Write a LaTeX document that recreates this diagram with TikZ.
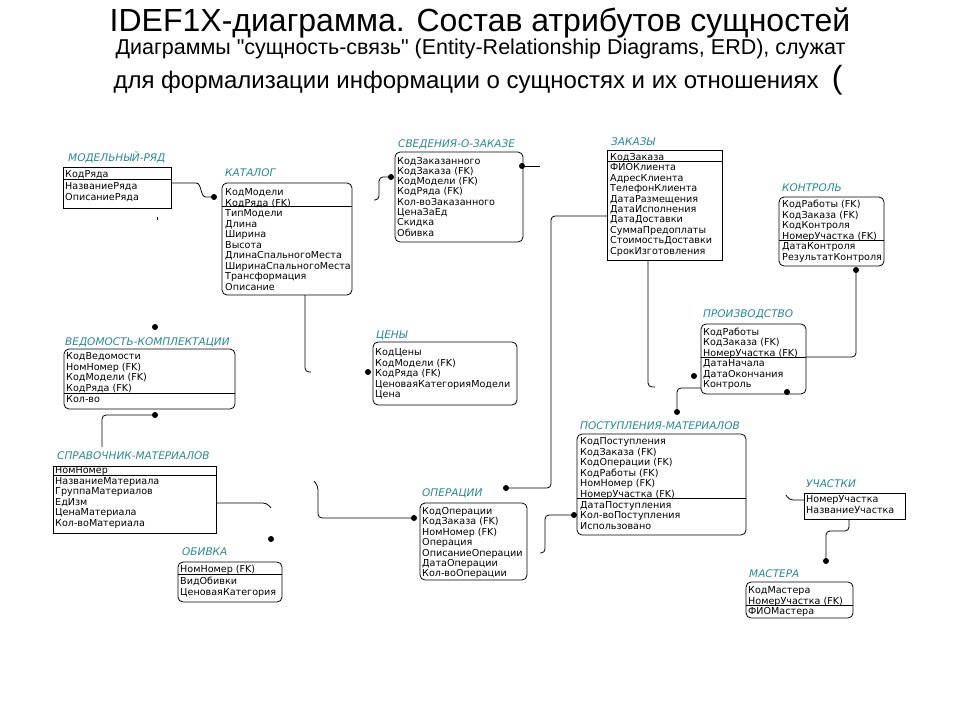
\documentclass[tikz,border=0pt]{standalone}
\usepackage{fontspec}
\setmainfont{Liberation Sans}
\newfontfamily\titlefont{Liberation Sans}
\newfontfamily\entfont{DejaVu Sans}
\usetikzlibrary{calc}
\definecolor{labcol}{RGB}{38,140,140}
\tikzset{
  boxsq/.style={draw, line width=0.8pt, anchor=north west, inner sep=0pt, outer sep=0pt},
  boxrd/.style={boxsq, rounded corners=5pt},
  row/.style={anchor=base west, inner sep=0pt, font=\entfont\fontsize{9.6}{11}\selectfont},
  lab/.style={anchor=base west, inner sep=0pt, text=labcol, font=\entfont\itshape\fontsize{10.5}{12}\selectfont},
  sepline/.style={line width=0.8pt},
  conn/.style={line width=0.8pt, rounded corners=4pt},
  dotc/.style={fill, circle, inner sep=0pt, minimum size=6pt},
  headtxt/.style={anchor=base, inner sep=0pt},
}
\begin{document}
\begin{tikzpicture}[x=1pt,y=-1pt]
\useasboundingbox[fill=white] (0,0) rectangle (960,720);

% titles
\node[headtxt, font=\titlefont\fontsize{32}{36}\selectfont] (title) at (480,31.5) {IDEF1X-диаграмма. Состав атрибутов сущностей};
\node[headtxt, font=\titlefont\fontsize{21.5}{24}\selectfont] (sub1) at (480.5,54.5) {Диаграммы "сущность-связь" (Entity-Relationship Diagrams, ERD), служат};
\node[headtxt, font=\titlefont\fontsize{24}{28}\selectfont] (sub2) at (478,88) {для формализации информации о сущностях и их отношениях\ \ {\fontsize{32}{32}\selectfont(}};

% МОДЕЛЬНЫЙ-РЯД
\node[lab] (modryad-lab) at (68,161) {МОДЕЛЬНЫЙ-РЯД};
\node[boxsq, minimum width=108pt, minimum height=41pt] (modryad) at (63,167) {};
\draw[sepline] (modryad.west |- 0,179.5) -- (modryad.east |- 0,179.5);
\foreach \t [count=\i] in {КодРяда,НазваниеРяда,ОписаниеРяда}
  \node[row] (modryad-\i) at (65,{177.5+11.7*(\i-1)}) {\t};

% КАТАЛОГ
\node[lab] (katalog-lab) at (225,176) {КАТАЛОГ};
\node[boxrd, minimum width=130pt, minimum height=112pt] (katalog) at (222,183) {};
\draw[sepline] (katalog.west |- 0,206) -- (katalog.east |- 0,206);
\foreach \t [count=\i] in {КодМодели,КодРяда (FK),ТипМодели,Длина,Ширина,Высота,ДлинаСпальногоМеста,ШиринаСпальногоМеста,Трансформация,Описание}
  \node[row] (katalog-\i) at (225,{195.5+10.5*(\i-1)}) {\t};

% СВЕДЕНИЯ-О-ЗАКАЗЕ
\node[lab] (sved-lab) at (398,147) {СВЕДЕНИЯ-О-ЗАКАЗЕ};
\node[boxrd, minimum width=128pt, minimum height=90pt] (sved) at (395,152) {};
\foreach \t [count=\i] in {КодЗаказанного,КодЗаказа (FK),КодМодели (FK),КодРяда (FK),Кол-воЗаказанного,ЦенаЗаЕд,Скидка,Обивка}
  \node[row] (sved-\i) at (397,{164+10.3*(\i-1)}) {\t};

% ЗАКАЗЫ
\node[lab] (zakazy-lab) at (611,145) {ЗАКАЗЫ};
\node[boxsq, minimum width=115pt, minimum height=110pt] (zakazy) at (607,150) {};
\draw[sepline] (zakazy.west |- 0,161.5) -- (zakazy.east |- 0,161.5);
\foreach \t [count=\i] in {КодЗаказа,ФИОКлиента,АдресКлиента,ТелефонКлиента,ДатаРазмещения,ДатаИсполнения,ДатаДоставки,СуммаПредоплаты,СтоимостьДоставки,СрокИзготовления}
  \node[row] (zakazy-\i) at (610,{160.5+10.4*(\i-1)}) {\t};

% КОНТРОЛЬ
\node[lab] (kontrol-lab) at (782,191) {КОНТРОЛЬ};
\node[boxrd, minimum width=105pt, minimum height=69pt] (kontrol) at (779,197) {};
\draw[sepline] (kontrol.west |- 0,240) -- (kontrol.east |- 0,240);
\foreach \t [count=\i] in {КодРаботы (FK),КодЗаказа (FK),КодКонтроля,НомерУчастка (FK),ДатаКонтроля,РезультатКонтроля}
  \node[row] (kontrol-\i) at (782,{207.5+10.6*(\i-1)}) {\t};

% ПРОИЗВОДСТВО
\node[lab] (proizv-lab) at (703,317) {ПРОИЗВОДСТВО};
\node[boxrd, minimum width=105pt, minimum height=70pt] (proizv) at (701,324) {};
\draw[sepline] (proizv.west |- 0,357) -- (proizv.east |- 0,357);
\foreach \t [count=\i] in {КодРаботы,КодЗаказа (FK),НомерУчастка (FK),ДатаНачала,ДатаОкончания,Контроль}
  \node[row] (proizv-\i) at (703,{335.5+10.4*(\i-1)}) {\t};

% ПОСТУПЛЕНИЯ-МАТЕРИАЛОВ
\node[lab] (postupl-lab) at (580,429) {ПОСТУПЛЕНИЯ-МАТЕРИАЛОВ};
\node[boxrd, minimum width=169pt, minimum height=101pt] (postupl) at (577,434) {};
\draw[sepline] (postupl.west |- 0,498.5) -- (postupl.east |- 0,498.5);
\foreach \t [count=\i] in {КодПоступления,КодЗаказа (FK),КодОперации (FK),КодРаботы (FK),НомНомер (FK),НомерУчастка (FK),ДатаПоступления,Кол-воПоступления,Использовано}
  \node[row] (postupl-\i) at (580,{444.5+10.6*(\i-1)}) {\t};

% УЧАСТКИ
\node[lab] (uch-lab) at (806,487) {УЧАСТКИ};
\node[boxsq, minimum width=101pt, minimum height=26pt] (uch) at (804,493) {};
\foreach \t [count=\i] in {НомерУчастка,НазваниеУчастка}
  \node[row] (uch-\i) at (806,{502.5+10.5*(\i-1)}) {\t};

% МАСТЕРА
\node[lab] (mast-lab) at (749,577) {МАСТЕРА};
\node[boxrd, minimum width=107pt, minimum height=36pt] (mast) at (746,582) {};
\draw[sepline] (mast.west |- 0,605) -- (mast.east |- 0,605);
\foreach \t [count=\i] in {КодМастера,НомерУчастка (FK),ФИОМастера}
  \node[row] (mast-\i) at (748,{593.5+10.6*(\i-1)}) {\t};

% ВЕДОМОСТЬ-КОМПЛЕКТАЦИИ
\node[lab] (ved-lab) at (65,345) {ВЕДОМОСТЬ-КОМПЛЕКТАЦИИ};
\node[boxrd, minimum width=171pt, minimum height=60pt] (ved) at (64,349) {};
\draw[sepline] (ved.west |- 0,393) -- (ved.east |- 0,393);
\foreach \t [count=\i] in {КодВедомости,НомНомер (FK),КодМодели (FK),КодРяда (FK),Кол-во}
  \node[row] (ved-\i) at (66,{359.5+10.7*(\i-1)}) {\t};

% СПРАВОЧНИК-МАТЕРИАЛОВ
\node[lab] (sprav-lab) at (57,459) {СПРАВОЧНИК-МАТЕРИАЛОВ};
\node[boxsq, minimum width=163pt, minimum height=67pt] (sprav) at (53,466) {};
\draw[sepline] (sprav.west |- 0,475.5) -- (sprav.east |- 0,475.5);
\foreach \t [count=\i] in {НомНомер,НазваниеМатериала,ГруппаМатериалов,ЕдИзм,ЦенаМатериала,Кол-воМатериала}
  \node[row] (sprav-\i) at (55,{473.5+10.6*(\i-1)}) {\t};

% ОБИВКА
\node[lab] (obiv-lab) at (182,555) {ОБИВКА};
\node[boxrd, minimum width=104pt, minimum height=40pt] (obiv) at (178,562) {};
\draw[sepline] (obiv.west |- 0,574) -- (obiv.east |- 0,574);
\foreach \t [count=\i] in {НомНомер (FK),ВидОбивки,ЦеноваяКатегория}
  \node[row] (obiv-\i) at (180,{572.5+11.5*(\i-1)}) {\t};

% ОПЕРАЦИИ
\node[lab] (oper-lab) at (422,496) {ОПЕРАЦИИ};
\node[boxrd, minimum width=107pt, minimum height=77pt] (oper) at (420,503) {};
\foreach \t [count=\i] in {КодОперации,КодЗаказа (FK),НомНомер (FK),Операция,ОписаниеОперации,ДатаОперации,Кол-воОперации}
  \node[row] (oper-\i) at (422,{514.5+10.4*(\i-1)}) {\t};

% ЦЕНЫ
\node[lab] (ceny-lab) at (376,338) {ЦЕНЫ};
\node[boxrd, minimum width=144pt, minimum height=63pt] (ceny) at (373,342) {};
\foreach \t [count=\i] in {КодЦены,КодМодели (FK),КодРяда (FK),ЦеноваяКатегорияМодели,Цена}
  \node[row] (ceny-\i) at (375,{355.5+10.6*(\i-1)}) {\t};

% ---- dots ----
\node[dotc] (d-katalog) at (214,197) {};
\node[dotc] (d-ceny) at (368,372) {};
\node[dotc] (d-sved-l) at (391,177) {};
\node[dotc] (d-sved-r) at (522,166) {};
\node[dotc] (d-oper-t) at (506,488) {};
\node[dotc] (d-oper-l) at (414,518) {};
\node[dotc] (d-proizv-l) at (694,376) {};
\node[dotc] (d-proizv-b) at (787,392) {};
\node[dotc] (d-kontrol) at (856,270) {};
\node[dotc] (d-postupl-t) at (677,412) {};
\node[dotc] (d-postupl-l) at (574,515) {};
\node[dotc] (d-ved-t) at (155,327) {};
\node[dotc] (d-ved-b) at (155,415) {};
\node[dotc] (d-obiv) at (271,539) {};
\node[dotc] (d-mast) at (826,561) {};

% ---- free ends ----
\coordinate (e-katalog) at (311,372);
\coordinate (e-sved-l) at (374,200);
\coordinate (e-sved-r) at (540,166);
\coordinate (e-zakazy) at (655,387);
\coordinate (e-postupl) at (540,553);
\coordinate (e-ved) at (102,447);
\coordinate (e-sprav) at (271,508);
\coordinate (e-oper) at (314,481);
\coordinate (e-uch) at (786,495);

% ---- connectors ----
\draw[line width=0.8pt] (modryad.east |- 0,183) -- (196,183) .. controls (202,183) and (200,197) .. (206,197) -- (d-katalog.center);
\draw[conn] (katalog.south -| 305,0) -- (305,372) -- (e-katalog);
\draw[conn] (d-sved-l.center) -- (379,177) -- (379,200) -- (e-sved-l);
\draw[line width=0.8pt] (d-sved-r.center) -- (e-sved-r);
\draw[conn] (zakazy.west |- 0,216) -- (551,216) -- (551,488) -- (d-oper-t.center);
\draw[conn] (zakazy.south -| 648,0) -- (648,387) -- (e-zakazy);
\draw[conn] (proizv.east |- 0,357) -- (856,357) -- (d-kontrol.center);
\draw[conn] (proizv.west |- 0,388) -- (677,388) -- (d-postupl-t.center);
\draw[conn] (d-postupl-l.center) -- (545,515) -- (545,553) -- (e-postupl);
\draw[conn] (d-ved-b.center) -- (102,415) -- (e-ved);
\draw[conn] (sprav.east |- 0,503) -- (267,503) -- (e-sprav);
\draw[conn] (e-oper) -- (318,486) -- (318,518) -- (d-oper-l.center);
\draw[conn] (uch.west |- 0,500) -- (789,500) -- (e-uch);
\draw[conn] (uch.south -| 849,0) -- (849,531) -- (826,531) -- (d-mast.center);
\draw[line width=0.8pt] (157,217) -- (157,220);
\end{tikzpicture}
\end{document}
